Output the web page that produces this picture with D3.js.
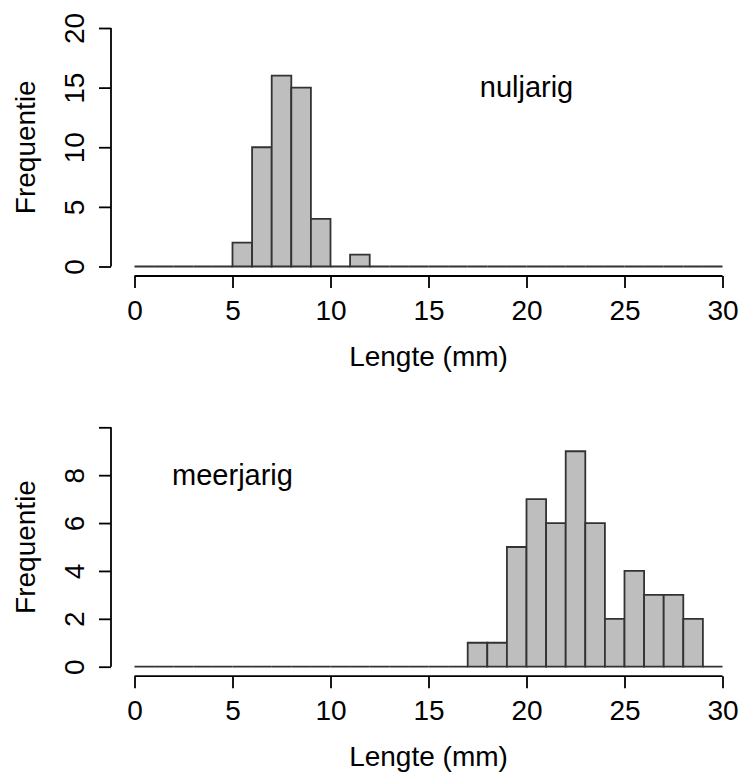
<!DOCTYPE html>
<html>
<head>
<meta charset="utf-8">
<script src="https://cdn.jsdelivr.net/npm/d3@7"></script>
<style>
  body { margin: 0; background: #fff; }
  svg text { font-family: "Liberation Sans", Arial, sans-serif; fill: #000; }
</style>
</head>
<body>
<div id="chart"></div>
<script>
// bin edges (mm), bins of 1 mm from 0 to 30
const binEdges = d3.range(0, 31);

// counts per bin (bin i covers [i, i+1))
const nuljarigCounts = [0,0,0,0,0,2,10,16,15,4,0,1,0,0,0,0,0,0,0,0,0,0,0,0,0,0,0,0,0,0];
const meerjarigCounts = [0,0,0,0,0,0,0,0,0,0,0,0,0,0,0,0,0,1,1,5,7,6,9,6,2,4,3,3,2,0];

const xTicks = [0, 5, 10, 15, 20, 25, 30];
const yTicksTop = [0, 5, 10, 15, 20];
const yTickLabelsTop = ["0", "5", "10", "15", "20"];
const yTicksBottom = [0, 2, 4, 6, 8, 10];
const yTickLabelsBottom = ["0", "2", "4", "6", "8", ""];

const xLabel = "Lengte (mm)";
const yLabel = "Frequentie";

const panels = [
  { counts: nuljarigCounts, yMax: 20, yTicks: yTicksTop, yLabels: yTickLabelsTop,
    label: "nuljarig", labelPos: [20, 15], top: 28, bottom: 266.5 },
  { counts: meerjarigCounts, yMax: 10, yTicks: yTicksBottom, yLabels: yTickLabelsBottom,
    label: "meerjarig", labelPos: [5, 8], top: 427.3, bottom: 666.7 }
];

const width = 742, height = 776;
const fs = 28;

const svg = d3.select("#chart").append("svg")
  .attr("width", width)
  .attr("height", height);

const x = d3.scaleLinear().domain([0, 30]).range([134.5, 722.5]);

panels.forEach(p => {
  const y = d3.scaleLinear().domain([0, p.yMax]).range([p.bottom, p.top]);
  const g = svg.append("g");

  // bars (R style: every bin drawn, empty ones collapse to a line)
  g.selectAll("path.bar")
    .data(p.counts)
    .enter()
    .append("path")
    .attr("class", "bar")
    .attr("d", (d, i) => {
      const x0 = x(binEdges[i]), x1 = x(binEdges[i + 1]);
      return `M${x0},${y(0)}V${y(d)}H${x1}V${y(0)}Z`;
    })
    .attr("fill", "#bebebe")
    .attr("stroke", "#333")
    .attr("stroke-width", 1.8);

  // x axis, offset below the plot like R
  const xAxisY = p.bottom + 9.5;
  const xa = g.append("g").attr("transform", `translate(0,${xAxisY})`)
    .call(d3.axisBottom(x).tickValues(xTicks).tickSize(12).tickSizeOuter(0).tickPadding(0));
  xa.select(".domain").attr("stroke", "#000").attr("stroke-width", 1.8)
    .attr("d", `M${x(0)},0H${x(30)}`);
  xa.selectAll(".tick line").attr("stroke", "#000").attr("stroke-width", 1.8);
  xa.selectAll(".tick text")
    .attr("font-size", fs)
    .attr("y", 43.5)
    .attr("dy", 0);

  g.append("text")
    .attr("x", (x(0) + x(30)) / 2)
    .attr("y", xAxisY + 90)
    .attr("text-anchor", "middle")
    .attr("font-size", fs)
    .text(xLabel);

  // y axis
  const ya = g.append("g").attr("transform", "translate(111,0)")
    .call(d3.axisLeft(y).tickValues(p.yTicks).tickSize(12).tickSizeOuter(0)
      .tickFormat((d, i) => p.yLabels[i]));
  ya.select(".domain").attr("stroke", "#000").attr("stroke-width", 1.8)
    .attr("d", `M0,${y(0)}V${y(p.yMax)}`);
  ya.selectAll(".tick line").attr("stroke", "#000").attr("stroke-width", 1.8);
  ya.selectAll(".tick text")
    .attr("font-size", fs)
    .attr("x", null).attr("dy", null)
    .attr("text-anchor", "middle")
    .attr("transform", "translate(-27.5,0) rotate(-90)");

  g.append("text")
    .attr("transform", `translate(35,${(p.top + p.bottom) / 2}) rotate(-90)`)
    .attr("text-anchor", "middle")
    .attr("font-size", fs)
    .text(yLabel);

  // panel label
  g.append("text")
    .attr("x", x(p.labelPos[0]))
    .attr("y", y(p.labelPos[1]))
    .attr("dy", "0.33em")
    .attr("text-anchor", "middle")
    .attr("font-size", 29)
    .text(p.label);
});

svg.selectAll(".tick text").attr("fill", "#000");
svg.selectAll("g[font-family]").attr("font-family", null).attr("font-size", null);
</script>
</body>
</html>
